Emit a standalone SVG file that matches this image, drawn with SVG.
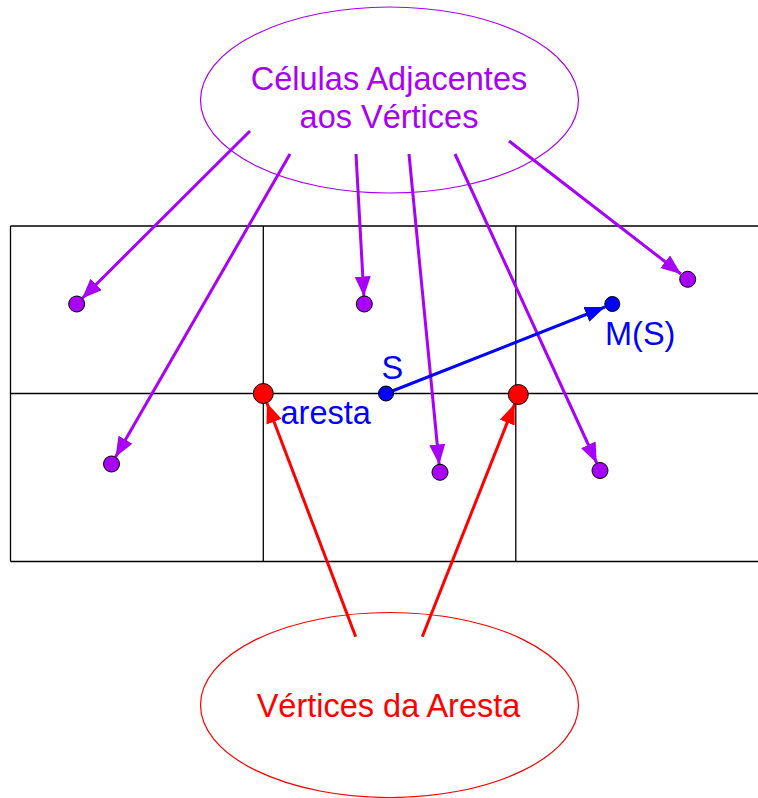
<svg xmlns="http://www.w3.org/2000/svg" width="758" height="798" viewBox="0 0 758 798">
  <style>
    .grid { stroke: #000; stroke-width: 1.3; fill: none; }
    .oval { fill: none; stroke-width: 1.2; }
    .lbl { font-family: "Liberation Sans", Arial, sans-serif; font-size: 32.5px; }
    .purple { stroke: #A800F8; }
    .purpleFill { fill: #A800F8; }
    .link { stroke-width: 3; fill: none; }
    .pt { stroke: #000; stroke-width: 1; }
  </style>
  <defs>
    <marker id="headPurple" viewBox="0 0 20 16" refX="20" refY="8" markerWidth="20" markerHeight="16" markerUnits="userSpaceOnUse" orient="auto">
      <path d="M0,0 L20,8 L0,16 z" fill="#A800F8"/>
    </marker>
    <marker id="headRed" viewBox="0 0 20 16" refX="20" refY="8" markerWidth="20" markerHeight="16" markerUnits="userSpaceOnUse" orient="auto">
      <path d="M0,0 L20,8 L0,16 z" fill="#FF0000"/>
    </marker>
    <marker id="headBlue" viewBox="0 0 20 16" refX="20" refY="8" markerWidth="20" markerHeight="16" markerUnits="userSpaceOnUse" orient="auto">
      <path d="M0,0 L20,8 L0,16 z" fill="#0000FF"/>
    </marker>
  </defs>

  <!-- cell grid -->
  <g id="grid" class="grid">
    <line x1="10.5" y1="226" x2="758" y2="226"/>
    <line x1="10.5" y1="393.5" x2="758" y2="393.5"/>
    <line x1="10.5" y1="561.5" x2="758" y2="561.5"/>
    <line x1="10.5" y1="226" x2="10.5" y2="561.5"/>
    <line x1="263.3" y1="226" x2="263.3" y2="561.5"/>
    <line x1="515.8" y1="226" x2="515.8" y2="561.5"/>
  </g>

  <!-- label ovals -->
  <g id="adjacent-cells">
    <ellipse class="oval" cx="389.5" cy="100" rx="189" ry="93" stroke="#A800F8"/>
    <text class="lbl" x="389" y="90" text-anchor="middle" fill="#A800F8">Células Adjacentes</text>
    <text class="lbl" x="389" y="128" text-anchor="middle" fill="#A800F8">aos Vértices</text>
  </g>
  <g id="edge-vertices">
    <ellipse class="oval" cx="389.5" cy="705" rx="189" ry="92.5" stroke="#FF0000"/>
    <text class="lbl" x="388.5" y="717" text-anchor="middle" fill="#FF0000">Vértices da Aresta</text>
  </g>

  <!-- connectors -->
  <g id="connectors" class="link">
    <line class="purple" x1="250" y1="131" x2="82" y2="298.5" marker-end="url(#headPurple)"/>
    <line class="purple" x1="290" y1="154" x2="115.5" y2="457" marker-end="url(#headPurple)"/>
    <line class="purple" x1="356" y1="154" x2="363.9" y2="296.5" marker-end="url(#headPurple)"/>
    <line class="purple" x1="409" y1="154" x2="439.2" y2="464.5" marker-end="url(#headPurple)"/>
    <line class="purple" x1="455" y1="154" x2="596.7" y2="463" marker-end="url(#headPurple)"/>
    <line class="purple" x1="509" y1="141" x2="681" y2="274" marker-end="url(#headPurple)"/>
    <line stroke="#0000FF" x1="386" y1="393.5" x2="605" y2="307" marker-end="url(#headBlue)"/>
    <line stroke="#FF0000" x1="355.7" y1="636.7" x2="266.9" y2="403" marker-end="url(#headRed)"/>
    <line stroke="#FF0000" x1="422.3" y1="636.7" x2="514.6" y2="404" marker-end="url(#headRed)"/>
  </g>

  <!-- adjacent cell centres -->
  <g id="cell-points" class="pt purpleFill">
    <circle cx="76.7" cy="304" r="8"/>
    <circle cx="111.5" cy="464" r="8"/>
    <circle cx="364.3" cy="304" r="8"/>
    <circle cx="440" cy="472.3" r="8"/>
    <circle cx="600" cy="470.5" r="8"/>
    <circle cx="687.7" cy="279.3" r="8"/>
  </g>

  <!-- edge vertices -->
  <g id="vertex-points" class="pt" fill="#FF0000">
    <circle cx="263.3" cy="393.5" r="10"/>
    <circle cx="518.3" cy="394.5" r="10"/>
  </g>

  <!-- point S and its image M(S) -->
  <g id="point-S">
    <circle class="pt" cx="386" cy="393.5" r="7.5" fill="#0000FF"/>
    <text class="lbl" x="381.5" y="379" fill="#0000FF">S</text>
  </g>
  <g id="point-MS">
    <circle class="pt" cx="612.3" cy="304" r="7.5" fill="#0000FF"/>
    <text class="lbl" x="605" y="345" fill="#0000FF">M(S)</text>
  </g>
  <g id="edge-label">
    <text class="lbl" x="280.5" y="423.5" fill="#0000FF">aresta</text>
  </g>
</svg>
